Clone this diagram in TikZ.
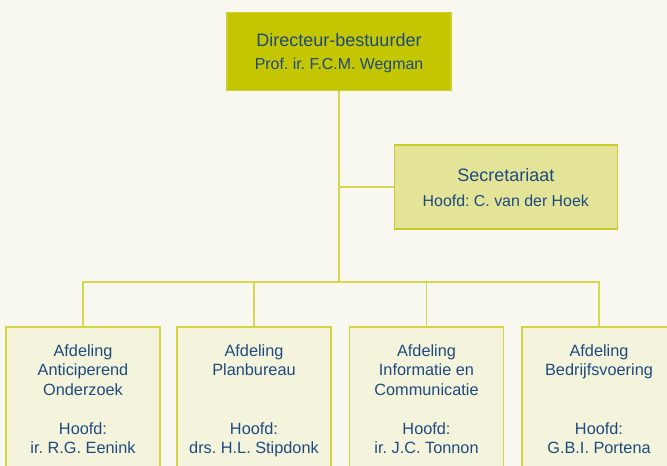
\documentclass[tikz,border=0pt]{standalone}
\usepackage{fontspec}
\setmainfont{Liberation Sans}
\frenchspacing
\definecolor{bgc}{HTML}{F8F8F0}
\definecolor{topfill}{HTML}{C3C600}
\definecolor{topline}{HTML}{CDD02A}
\definecolor{secfill}{HTML}{E4E499}
\definecolor{secline}{HTML}{CBCB2C}
\definecolor{afdfill}{HTML}{F4F4DC}
\definecolor{afdline}{HTML}{D5D544}
\definecolor{conn}{HTML}{D6D650}
\definecolor{txt}{HTML}{1F4A7E}
\begin{document}
\begin{tikzpicture}[x=1pt,y=-1pt,
  boxbase/.style={rectangle,inner sep=0pt,line width=1.2pt},
  topbox/.style={boxbase,fill=topfill,draw=topline,minimum width=224pt,minimum height=78pt},
  secbox/.style={boxbase,fill=secfill,draw=secline,minimum width=223pt,minimum height=84pt},
  afdbox/.style={boxbase,fill=afdfill,draw=afdline,minimum width=154pt,minimum height=150pt},
  bigtxt/.style={anchor=base,inner sep=0pt,text=txt,font=\fontsize{18}{22}\selectfont\frenchspacing},
  midtxt/.style={anchor=base,inner sep=0pt,text=txt,font=\fontsize{15.9}{19.5}\selectfont\frenchspacing},
  smalltxt/.style={anchor=base,inner sep=0pt,text=txt,align=center,font=\fontsize{16.3}{19.5}\selectfont\frenchspacing},
  connector/.style={draw=conn,line width=1.5pt}]
\fill[bgc] (0,0) rectangle (667,466);
\useasboundingbox (0,0) rectangle (667,466);

% boxes
\node[topbox] (dir) at (339,51.3) {};
\node[secbox] (sec) at (505.8,187) {};
\node[afdbox] (b1) at (83,402) {};
\node[afdbox] (b2) at (254,402) {};
\node[afdbox] (b3) at (426.5,402) {};
\node[afdbox] (b4) at (599,402) {};

% connectors
\coordinate (hub) at (339,282);
\draw[connector] (dir.south) -- (hub);
\draw[connector] (dir.south |- sec.west) -- (sec.west);
\draw[connector] (b1.north) |- (hub);
\draw[connector] (b2.north) |- (hub);
\draw[connector] (b3.north) |- (hub);
\draw[connector] (b4.north) |- (hub);

% texts (base anchor = baseline of the last line)
\node[bigtxt] (dirA) at (339,46) {Directeur-bestuurder};
\node[midtxt] (dirB) at (339,69) {Prof. ir. F.C.M. Wegman};
\node[bigtxt] (secA) at (505.8,181.7) {Secretariaat};
\node[midtxt] (secB) at (505.8,206.7) {Hoofd: C. van der Hoek};

\node[smalltxt] (b1a) at (83,395) {Afdeling\\Anticiperend\\Onderzoek};
\node[smalltxt] (b1b) at (83,453.5) {Hoofd:\\ir. R.G. Eenink};
\node[smalltxt] (b2a) at (254,375.5) {Afdeling\\Planbureau};
\node[smalltxt] (b2b) at (254,453.5) {Hoofd:\\drs. H.L. Stipdonk};
\node[smalltxt] (b3a) at (426.5,395) {Afdeling\\Informatie en\\Communicatie};
\node[smalltxt] (b3b) at (426.5,453.5) {Hoofd:\\ir. J.C. Tonnon};
\node[smalltxt] (b4a) at (599,375.5) {Afdeling\\Bedrijfsvoering};
\node[smalltxt] (b4b) at (599,453.5) {Hoofd:\\G.B.I. Portena};
\end{tikzpicture}
\end{document}
